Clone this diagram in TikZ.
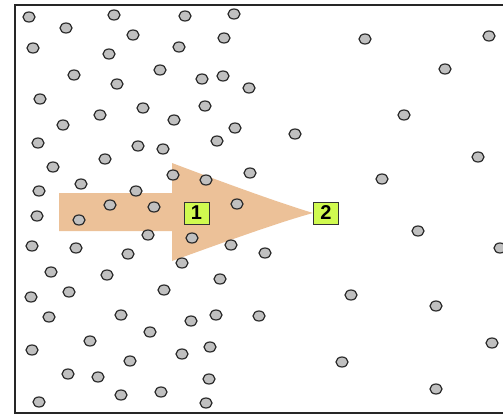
\documentclass[tikz,border=0pt]{standalone}
\usepackage{fontspec}
\setmainfont{Liberation Sans}
\usetikzlibrary{shapes.geometric}
\definecolor{arrowpeach}{RGB}{236,193,152}
\definecolor{lblgreen}{RGB}{208,250,80}
\definecolor{dotgray}{RGB}{192,192,192}
\definecolor{dotedge}{RGB}{45,45,45}
\tikzset{
  dot/.style={ellipse, draw=dotedge, fill=dotgray, line width=1.2pt,
    minimum width=12pt, minimum height=10pt, inner sep=0pt},
  lbl/.style={draw=black!80, fill=lblgreen, line width=1pt,
    minimum width=25pt, minimum height=22pt, inner sep=0pt,
    font=\fontsize{20}{20}\selectfont\bfseries}
}
\begin{document}
\begin{tikzpicture}[x=1pt,y=-1pt]
\useasboundingbox (0,0) rectangle (503,415);
\fill[white] (0,0) rectangle (503,415);
\begin{scope}
\clip (0,0) rectangle (503,415);
\draw[line width=2pt, draw=black!85] (15,5) rectangle (540,413);
\end{scope}
% arrow
\fill[arrowpeach] (59,193) -- (172,193) -- (172,163)
  .. controls (230,185) and (280,203) .. (313,213)
  .. controls (280,222) and (230,240) .. (172,261)
  -- (172,231) -- (59,231) -- cycle;
% dots
\foreach \x/\y [count=\i] in {
29/17, 66/28, 114/15, 185/16, 234/14, 133/35, 33/48, 109/54, 179/47, 224/38,
365/39, 489/36,
74/75, 160/70, 202/79, 223/76, 117/84, 249/88, 445/69,
40/99, 143/108, 205/106, 100/115, 174/120, 404/115,
63/125, 235/128, 295/134,
38/143, 138/146, 163/149, 217/141,
53/167, 105/159, 478/157,
81/184, 136/191, 173/175, 206/180, 250/173, 382/179,
39/191, 110/205, 154/207, 237/204,
37/216, 79/220,
148/235, 192/238, 418/231,
32/246, 76/248, 128/254, 231/245, 265/253, 500/248,
51/272, 107/275, 182/263,
220/279,
31/297, 69/292, 164/290, 351/295,
49/317, 121/315, 191/321, 216/315, 259/316, 436/306,
150/332, 90/341,
32/350, 182/354, 210/347, 492/343,
130/361, 342/362,
68/374, 98/377, 161/392, 209/379,
39/402, 121/395, 206/403, 436/389}
  \node[dot] (d\i) at (\x,\y) {};
% labels
\node[lbl] (l1) at (196.5,213) {1};
\node[lbl] (l2) at (326,213) {2};
\end{tikzpicture}
\end{document}
